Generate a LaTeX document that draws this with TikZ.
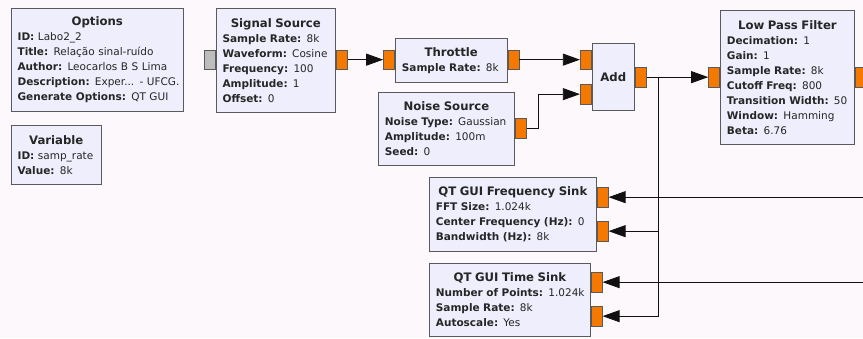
\documentclass[tikz,border=0pt]{standalone}
\usepackage{fontspec}
\setmainfont{DejaVu Sans}
\usetikzlibrary{arrows.meta}
\usetikzlibrary{positioning}
\definecolor{bgpink}{HTML}{FCF8FC}
\definecolor{blockfill}{HTML}{EEEEFC}
\definecolor{blockline}{HTML}{5A5A5A}
\definecolor{portorange}{HTML}{F57900}
\definecolor{portgray}{HTML}{BDBDBD}
\definecolor{wirecol}{HTML}{111111}
\newcommand{\blocktitle}[1]{\makebox[\linewidth]{\fontsize{11.7}{15}\selectfont\bfseries #1}}
\newcommand{\param}[2]{\mbox{\textbf{#1:} #2}}
\tikzset{block/.style = {draw=blockline, fill=blockfill, line width=0.8pt, rectangle,
                         anchor=north west, inner xsep=6.5pt, inner ysep=0pt, align=left,
                         font=\fontsize{10.5}{15}\selectfont, text=black!85}}
\tikzset{port/.style = {draw=blockline, fill=portorange, line width=0.8pt,
                        minimum width=11pt, minimum height=19.5pt, inner sep=0pt}}
\tikzset{wire/.style = {draw=wirecol, line width=0.8pt, -{Triangle[length=17pt,width=12pt]}}}

\begin{document}
\begin{tikzpicture}[x=1pt, y=-1pt]
		
		\useasboundingbox (0,0) rectangle (863,338);
		\fill[bgpink] (0,0) rectangle (863,338);
		\clip (0,0) rectangle (863,338);
		
		% blocks
		\node[block, text width=159.3pt, minimum height=103pt] (opts) at (10.7,8) {\blocktitle{Options}\\
			\param{ID}{Labo2\_2}\\
			\param{Title}{Relação sinal-ruído}\\
			\param{Author}{Leocarlos B S Lima}\\
			\param{Description}{Exper... - UFCG.}\\
			\param{Generate Options}{QT GUI}};
		\node[block, text width=77.3pt, minimum height=59pt] (var) at (10.7,125) {\blocktitle{Variable}\\
			\param{ID}{samp\_rate}\\
			\param{Value}{8k}};
		\node[block, text width=106.3pt, minimum height=104pt] (sig) at (215.7,8) {\blocktitle{Signal Source}\\
			\param{Sample Rate}{8k}\\
			\param{Waveform}{Cosine}\\
			\param{Frequency}{100}\\
			\param{Amplitude}{1}\\
			\param{Offset}{0}};
		\node[block, text width=98.7pt, minimum height=44pt] (thr) at (395,38) {\blocktitle{Throttle}\\
			\param{Sample Rate}{8k}};
		\node[block, text width=123pt, minimum height=73pt] (noise) at (378,92) {\blocktitle{Noise Source}\\
			\param{Noise Type}{Gaussian}\\
			\param{Amplitude}{100m}\\
			\param{Seed}{0}};
		\node[block, text width=29.3pt, minimum height=67pt] (add) at (591.7,43) {\blocktitle{Add}};
		\node[block, text width=121pt, minimum height=134pt] (lpf) at (720,10) {\blocktitle{Low Pass Filter}\\
			\param{Decimation}{1}\\
			\param{Gain}{1}\\
			\param{Sample Rate}{8k}\\
			\param{Cutoff Freq}{800}\\
			\param{Transition Width}{50}\\
			\param{Window}{Hamming}\\
			\param{Beta}{6.76}};
		\node[block, text width=154pt, minimum height=73.7pt] (fsink) at (429,177) {\blocktitle{QT GUI Frequency Sink}\\
			\param{FFT Size}{1.024k}\\
			\param{Center Frequency (Hz)}{0}\\
			\param{Bandwidth (Hz)}{8k}};
		\node[block, text width=148pt, minimum height=73.3pt] (tsink) at (429,262.7) {\blocktitle{QT GUI Time Sink}\\
			\param{Number of Points}{1.024k}\\
			\param{Sample Rate}{8k}\\
			\param{Autoscale}{Yes}};
		
		% ports
		\node[port, fill=portgray, anchor=north east] (sig-in) at ([yshift=-41.5pt]sig.north west) {};
		\node[port, anchor=north west] (sig-out) at ([yshift=-41.5pt]sig.north east) {};
		\node[port, anchor=north east] (thr-in) at ([yshift=-11.5pt]thr.north west) {};
		\node[port, anchor=north west] (thr-out) at ([yshift=-11.5pt]thr.north east) {};
		\node[port, anchor=north west] (noise-out) at ([yshift=-26pt]noise.north east) {};
		\node[port, anchor=north east] (add-in1) at ([yshift=-6.5pt]add.north west) {};
		\node[port, anchor=north east] (add-in2) at ([yshift=-41pt]add.north west) {};
		\node[port, anchor=north west] (add-out) at ([yshift=-24pt]add.north east) {};
		\node[port, anchor=north east] (lpf-in) at ([yshift=-57pt]lpf.north west) {};
		\node[port, anchor=north west] (lpf-out) at ([yshift=-57pt]lpf.north east) {};
		\node[port, anchor=north west] (fsink-in1) at ([yshift=-10pt]fsink.north east) {};
		\node[port, anchor=north west] (fsink-in2) at ([yshift=-44pt]fsink.north east) {};
		\node[port, anchor=north west] (tsink-in1) at ([yshift=-9.3pt]tsink.north east) {};
		\node[port, anchor=north west] (tsink-in2) at ([yshift=-43.3pt]tsink.north east) {};
		
		\coordinate (tap) at ([xshift=12pt]add-out.east);
		\coordinate (rim) at (863,0);
		
		% connections
		\draw[wire] (sig-out.east) -- (thr-in.west);
		\draw[wire] (thr-out.east) -- (add-in1.west);
		\draw[wire] (noise-out.east) -- ++(11.7,0) |- (add-in2.west);
		\draw[wire] (add-out.east) -- (lpf-in.west);
		\draw[wire] (tap) |- (fsink-in2.east);
		\draw[wire] (tap) |- (tsink-in2.east);
		\draw[wire] (rim |- fsink-in1.east) -- (fsink-in1.east);
		\draw[wire] (rim |- tsink-in1.east) -- (tsink-in1.east);
		
\end{tikzpicture}
\end{document}
